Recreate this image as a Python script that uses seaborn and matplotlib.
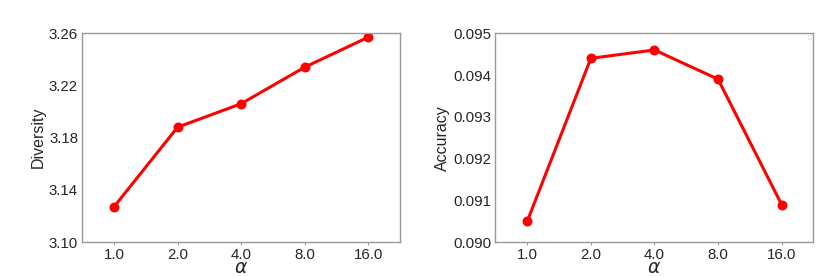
import matplotlib
matplotlib.use("Agg")
import matplotlib.pyplot as plt
import seaborn as sns
import pandas as pd

alphas = ["1.0", "2.0", "4.0", "8.0", "16.0"]
diversity = [3.127, 3.188, 3.206, 3.234, 3.257]
accuracy = [0.0905, 0.0944, 0.0946, 0.0939, 0.0909]

sns.set_style("white")
plt.rcParams['font.family'] = ['Liberation Sans', 'DejaVu Sans']
plt.rcParams['mathtext.fontset'] = 'dejavusans'

fig, axes = plt.subplots(1, 2, figsize=(8.3, 2.77), dpi=100)
fig.subplots_adjust(left=0.099, right=0.98, top=0.88, bottom=0.126, wspace=0.3)

df = pd.DataFrame({"alpha": alphas, "Diversity": diversity, "Accuracy": accuracy})

for ax, col, lim, ticks in [
    (axes[0], "Diversity", (3.10, 3.26), [3.10, 3.14, 3.18, 3.22, 3.26]),
    (axes[1], "Accuracy", (0.090, 0.095), [0.090, 0.091, 0.092, 0.093, 0.094, 0.095]),
]:
    sns.pointplot(data=df, x="alpha", y=col, ax=ax, color="red", markers="o",
                  linewidth=2.2, markersize=5.5, errorbar=None)
    ax.set_ylim(*lim)
    ax.set_yticks(ticks)
    if col == "Diversity":
        ax.set_yticklabels([f"{t:.2f}" for t in ticks])
    else:
        ax.set_yticklabels([f"{t:.3f}" for t in ticks])
    ax.set_xlim(-0.5, 4.5)
    ax.set_xlabel(r"$\alpha$", fontsize=13.5, labelpad=-1)
    ax.set_ylabel(col, fontsize=11.5, labelpad=2)
    ax.tick_params(axis="y", labelsize=10.8, length=0, pad=3)
    ax.tick_params(axis="x", labelsize=10.8, length=2, width=0.8, color="#999999",
                   direction="out", bottom=True, pad=2)
    for s in ax.spines.values():
        s.set_color("#999999")
        s.set_linewidth(1.0)

leg = axes[1].legend(handles=[], loc="upper right", frameon=True, fancybox=False,
                     fontsize=4, borderpad=0.3, borderaxespad=0.4)
leg.get_frame().set_edgecolor("#dddddd")
leg.get_frame().set_linewidth(0.6)

fig.savefig("out.png", dpi=100)
